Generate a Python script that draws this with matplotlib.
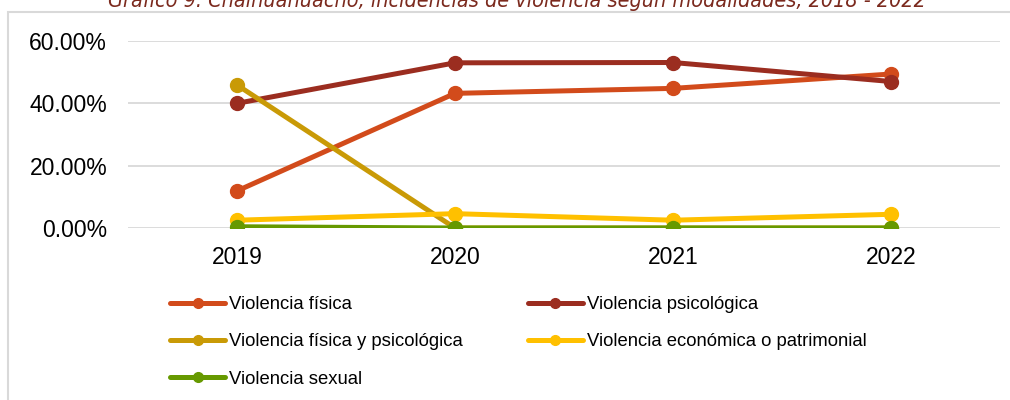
import matplotlib
matplotlib.use("Agg")
import matplotlib.pyplot as plt
from matplotlib.patches import Rectangle
from matplotlib.ticker import FuncFormatter

plt.rcParams['font.family'] = ['Liberation Sans', 'DejaVu Sans']

years = ["2019", "2020", "2021", "2022"]
fisica = [0.119, 0.432, 0.448, 0.494]
psicologica = [0.400, 0.530, 0.531, 0.470]
fisica_psico = [0.459, 0.0, 0.0, 0.0]
economica = [0.025, 0.046, 0.025, 0.044]
sexual = [0.004, 0.0, 0.0, 0.0]

series = [
    ("Violencia física", fisica, "#D24B1B"),
    ("Violencia psicológica", psicologica, "#9B2D20"),
    ("Violencia física y psicológica", fisica_psico, "#C99A06"),
    ("Violencia económica o patrimonial", economica, "#FFC000"),
    ("Violencia sexual", sexual, "#669900"),
]

fig = plt.figure(figsize=(10.1, 4.0), dpi=100)
ax = fig.add_axes([128 / 1010, 1 - 228 / 400, 872 / 1010, 187 / 400])

# outer chart border (cropped)
fig.patches.append(Rectangle((8 / 1010, -0.1), 1.2, 1.1 - 12 / 400, transform=fig.transFigure,
                             fill=False, edgecolor="#D9D9D9", linewidth=1.5))

x = range(len(years))
lines = []
for name, vals, col in series:
    ln, = ax.plot(x, vals, color=col, lw=3.6, marker="o", ms=10, label=name, solid_capstyle="round")
    lines.append(ln)

ax.set_xlim(-0.5, 3.5)
ax.set_ylim(0, 0.6)
ax.set_yticks([0, 0.2, 0.4, 0.6])
ax.yaxis.set_major_formatter(FuncFormatter(lambda v, p: f"{v * 100:.2f}%"))
ax.set_xticks(list(x))
ax.set_xticklabels(years)
ax.grid(axis="y", color="#D9D9D9", lw=1.3)
ax.set_axisbelow(True)
for s in ax.spines.values():
    s.set_visible(False)
ax.tick_params(axis="both", length=0, labelsize=16.5, colors="black")
ax.tick_params(axis="y", pad=15)
ax.tick_params(axis="x", pad=13)

# legend filled row by row like the original
order = [0, 2, 4, 1, 3]
leg = fig.legend([lines[i] for i in order], [series[i][0] for i in order],
                 loc="upper left", bbox_to_anchor=(170 / 1010, 1 - 296 / 400), ncol=2,
                 frameon=False, fontsize=13.3, handlelength=3.0, handletextpad=0.2,
                 columnspacing=3.5, labelspacing=1.1, borderpad=0, borderaxespad=0)
for h in leg.legend_handles:
    h.set_markersize(7)

fig.text(517 / 1010, 1 - 7 / 400, "Gráfico 9. Chalhuahuacho, incidencias de violencia según modalidades, 2018 - 2022",
         ha="center", va="baseline", fontsize=15.5, style="italic", fontstretch="condensed",
         color="#7B2A1E", family="DejaVu Sans")

fig.savefig("out.png", dpi=100)
